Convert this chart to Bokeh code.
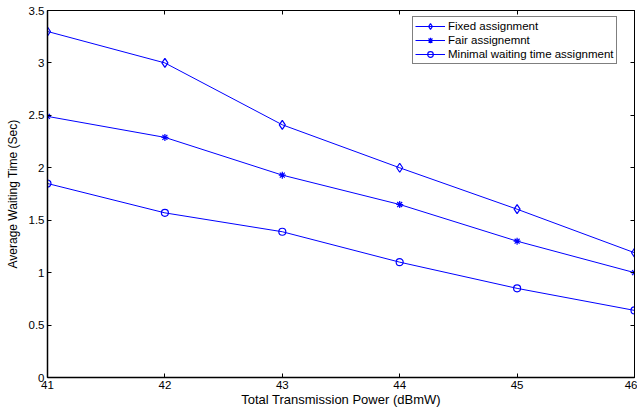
from bokeh.plotting import figure
from bokeh.models import LinearAxis, Range1d, FixedTicker, Legend, LegendItem
from bokeh.embed import file_html
from bokeh.resources import INLINE

power = [41, 42, 43, 44, 45, 46]
fixed = [3.30, 3.00, 2.41, 2.00, 1.605, 1.19]
fair = [2.49, 2.29, 1.93, 1.65, 1.30, 1.00]
minimal = [1.85, 1.57, 1.39, 1.10, 0.85, 0.64]
x_ticks = [41, 42, 43, 44, 45, 46]
y_ticks = [0, 0.5, 1, 1.5, 2, 2.5, 3, 3.5]

FONT = "Liberation Sans"
BLUE = "#0000ff"

p = figure(width=637, height=409, output_backend="svg", toolbar_location=None,
           x_range=Range1d(41, 46), y_range=Range1d(0, 3.5),
           min_border_left=47, min_border_right=3, min_border_top=10, min_border_bottom=32)
p.xgrid.visible = False
p.ygrid.visible = False
p.outline_line_color = "black"
p.outline_line_width = 1
p.background_fill_color = "white"
p.border_fill_color = "white"

def style_axis(ax, ticks, labels=True):
    ax.ticker = FixedTicker(ticks=ticks)
    ax.major_tick_in = 4
    ax.major_tick_out = 0
    ax.minor_tick_in = 0
    ax.minor_tick_out = 0
    ax.axis_line_color = "black"
    ax.axis_line_width = 1.5
    ax.major_tick_line_color = "black"
    ax.major_label_text_font = FONT
    ax.major_label_text_font_size = "11.5px"
    ax.major_label_text_color = "black"
    ax.axis_label_text_font = FONT
    ax.axis_label_text_font_style = "normal"
    ax.axis_label_text_color = "black"
    if not labels:
        ax.major_label_text_font_size = "0px"
        ax.major_label_text_alpha = 0

style_axis(p.xaxis[0], x_ticks)
style_axis(p.yaxis[0], y_ticks)
p.xaxis[0].axis_label = "Total Transmission Power (dBmW)"
p.yaxis[0].axis_label = "Average Waiting Time (Sec)"
p.xaxis[0].axis_label_text_font_size = "13px"
p.yaxis[0].axis_label_text_font_size = "12px"
p.xaxis[0].major_label_standoff = 3
p.xaxis[0].axis_label_standoff = 0
p.yaxis[0].major_label_standoff = 3
p.yaxis[0].axis_label_standoff = 6

top = LinearAxis()
style_axis(top, x_ticks, labels=False)
top.axis_line_width = 1
p.add_layout(top, "above")
right = LinearAxis()
style_axis(right, y_ticks, labels=False)
right.axis_line_width = 1
p.add_layout(right, "right")

items = []
for data, marker, size, label in [(fixed, "diamond", 9, "Fixed assignment"),
                                  (fair, "asterisk", 7, "Fair assignemnt"),
                                  (minimal, "circle", 7, "Minimal waiting time assignment")]:
    r1 = p.line(power, data, line_color=BLUE, line_width=1)
    r2 = p.scatter(power, data, marker=marker, size=size, line_color=BLUE,
                   fill_color=None, line_width=1.2)
    items.append(LegendItem(label=label, renderers=[r1, r2]))

legend = Legend(items=items, location=(365, 313))
legend.border_line_color = "black"
legend.border_line_width = 1
legend.background_fill_color = "white"
legend.background_fill_alpha = 1
legend.label_text_font = FONT
legend.label_text_font_size = "11.5px"
legend.label_text_color = "black"
legend.glyph_width = 30
legend.glyph_height = 14
legend.label_height = 14
legend.spacing = 0
legend.padding = 2
legend.margin = 0
legend.label_standoff = 3
p.add_layout(legend, "center")

open("out.html", "w").write(file_html(p, INLINE))
